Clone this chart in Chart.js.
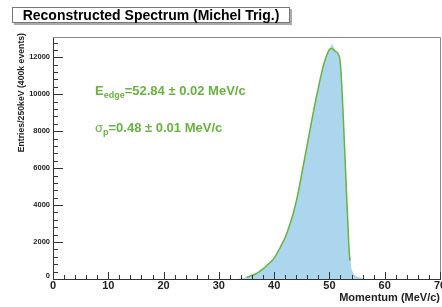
<!DOCTYPE html>
<html>
<head>
<meta charset="utf-8">
<script src="https://cdn.jsdelivr.net/npm/chart.js@4.4.1/dist/chart.umd.min.js"></script>
<style>
  html, body { margin: 0; padding: 0; background: #fff; }
</style>
</head>
<body>
<canvas id="spectrum" width="442" height="307"></canvas>
<script>
// histogram contents (MeV/c, entries per 250 keV)
var histMomentum = [33, 33.5, 34, 34.5, 35, 35.5, 36, 36.5, 37, 37.5, 38, 38.5, 39, 39.5,
    40, 40.5, 41, 41.5, 42, 42.5, 43, 43.5, 44, 44.5, 45, 45.5, 46, 46.5, 47, 47.5,
    48, 48.5, 49, 49.5, 50, 50.5, 51, 51.5, 52, 52.5, 53, 53.5, 54, 54.5, 55, 55.5,
    56, 56.5, 57];
var histEntries = [0, 15, 35, 60, 100, 140, 200, 260, 330, 440, 550, 680, 820, 960,
    1130, 1380, 1650, 1950, 2250, 2650, 3100, 3600, 4200, 4900, 5700, 6500, 7300, 8100, 8900, 9650,
    10350, 11050, 11650, 12100, 12420, 12750, 12380, 12240, 11650, 8800, 5300, 1900, 520, 230, 130, 80,
    40, 15, 0];

// fitted edge function
var fitMomentum = [35, 35.5, 36, 36.5, 37, 37.5, 38, 38.5, 39, 39.5, 40, 40.5, 41, 41.5,
    42, 42.5, 43, 43.5, 44, 44.5, 45, 45.5, 46, 46.5, 47, 47.5, 48, 48.5, 49, 49.5,
    50, 50.5, 51, 51.5, 52, 52.5, 53, 53.5, 53.7];
var fitEntries = [100, 140, 200, 260, 330, 440, 550, 680, 820, 960, 1130, 1380, 1650, 1950,
    2250, 2650, 3100, 3600, 4200, 4900, 5700, 6500, 7300, 8100, 8900, 9650, 10350, 11050, 11650, 12100,
    12420, 12480, 12330, 12220, 11600, 8800, 5300, 1900, 980];

var xTickLabels = [0, 10, 20, 30, 40, 50, 60, 70];
var yTickLabels = [0, 2000, 4000, 6000, 8000, 10000, 12000];

var GREEN = 'rgb(104,178,62)';
var FONT = '"Liberation Sans", Arial, sans-serif';

function toPoints(xs, ys) {
    var pts = [];
    for (var i = 0; i < xs.length; i++) {
        pts.push({ x: xs[i], y: ys[i] });
    }
    return pts;
}

// ROOT-like decorations: inward ticks, labels, titles, frame, stat text
var rootStyle = {
    id: 'rootStyle',
    afterDraw: function (chart) {
        var ctx = chart.ctx;
        var area = chart.chartArea;
        var xs = chart.scales.x;
        var ys = chart.scales.y;
        var i, p;

        ctx.save();

        // frame top / right
        ctx.strokeStyle = '#888';
        ctx.lineWidth = 1;
        ctx.beginPath();
        ctx.moveTo(area.left, area.top + 0.5);
        ctx.lineTo(area.right + 0.5, area.top + 0.5);
        ctx.lineTo(area.right + 0.5, area.bottom);
        ctx.stroke();

        // x ticks (every 2, major every 10)
        ctx.strokeStyle = '#333';
        ctx.beginPath();
        for (i = 0; i <= 70; i += 2) {
            p = Math.round(xs.getPixelForValue(i)) + 0.5;
            var len = (i % 10 === 0) ? 7 : 4;
            ctx.moveTo(p, area.bottom);
            ctx.lineTo(p, area.bottom - len);
        }
        // y ticks (every 400, major every 2000)
        for (i = 0; i <= ys.max; i += 400) {
            p = Math.round(ys.getPixelForValue(i)) + 0.5;
            var ylen = (i % 2000 === 0) ? 10 : 5;
            ctx.moveTo(area.left, p);
            ctx.lineTo(area.left + ylen, p);
        }
        ctx.stroke();

        // tick labels
        ctx.fillStyle = '#222';
        ctx.font = 'bold 11px ' + FONT;
        ctx.textAlign = 'center';
        ctx.textBaseline = 'top';
        xTickLabels.forEach(function (v) {
            ctx.fillText(String(v), xs.getPixelForValue(v), area.bottom + 1);
        });
        ctx.font = 'bold 7.5px ' + FONT;
        ctx.textAlign = 'right';
        ctx.textBaseline = 'middle';
        yTickLabels.forEach(function (v) {
            var yy = ys.getPixelForValue(v);
            if (v === 0) { yy -= 3; }
            ctx.fillText(String(v), area.left - 3, yy);
        });

        // axis titles
        ctx.font = 'bold 11px ' + FONT;
        ctx.textAlign = 'right';
        ctx.textBaseline = 'alphabetic';
        ctx.fillText('Momentum (MeV/c)', area.right, 301);

        ctx.save();
        ctx.translate(24, 33);
        ctx.rotate(-Math.PI / 2);
        ctx.font = 'bold 8.7px ' + FONT;
        ctx.textAlign = 'right';
        ctx.fillText('Entries/250keV (400k events)', 0, 0);
        ctx.restore();

        // title box
        ctx.fillStyle = '#aaa';
        ctx.fillRect(14, 9, 278, 16);
        ctx.fillStyle = '#fff';
        ctx.fillRect(12, 7, 278, 16);
        ctx.strokeStyle = '#777';
        ctx.strokeRect(12.5, 7.5, 277, 15);
        ctx.fillStyle = '#000';
        ctx.font = 'bold 14px ' + FONT;
        ctx.textAlign = 'center';
        ctx.fillText('Reconstructed Spectrum (Michel Trig.)', 151, 20);

        // fit results
        ctx.fillStyle = GREEN;
        ctx.textAlign = 'left';
        var x0 = 95;
        ctx.font = 'bold 13px ' + FONT;
        ctx.fillText('E', x0, 95);
        var w = ctx.measureText('E').width;
        ctx.font = 'bold 9px ' + FONT;
        ctx.fillText('edge', x0 + w, 98);
        w += ctx.measureText('edge').width;
        ctx.font = 'bold 13px ' + FONT;
        ctx.fillText('=52.84 \u00b1 0.02 MeV/c', x0 + w, 95);

        ctx.font = '13px ' + FONT;
        ctx.fillText('\u03c3', x0, 132);
        w = ctx.measureText('\u03c3').width;
        ctx.font = 'bold 9px ' + FONT;
        ctx.fillText('p', x0 + w, 135);
        w += ctx.measureText('p').width;
        ctx.font = 'bold 13px ' + FONT;
        ctx.fillText('=0.48 \u00b1 0.01 MeV/c', x0 + w, 132);

        ctx.restore();
    }
};

new Chart(document.getElementById('spectrum'), {
    type: 'scatter',
    data: {
        datasets: [
            {
                label: 'fit',
                data: toPoints(fitMomentum, fitEntries),
                showLine: true,
                borderColor: GREEN,
                borderWidth: 1.5,
                pointRadius: 0,
                cubicInterpolationMode: 'monotone',
                fill: false,
                order: 0
            },
            {
                label: 'histogram',
                data: toPoints(histMomentum, histEntries),
                showLine: true,
                borderColor: 'rgba(0,0,0,0)',
                borderWidth: 0,
                backgroundColor: 'rgb(172,214,238)',
                pointRadius: 0,
                fill: 'origin',
                order: 1
            }
        ]
    },
    options: {
        responsive: false,
        animation: false,
        devicePixelRatio: 1,
        layout: { padding: { left: 0, right: 2, top: 37, bottom: 0 } },
        plugins: {
            legend: { display: false },
            tooltip: { enabled: false },
            title: { display: false }
        },
        scales: {
            x: {
                type: 'linear',
                min: 0,
                max: 70,
                grid: { display: false, drawTicks: false },
                border: { display: true, color: '#333', width: 1 },
                ticks: { display: false },
                afterFit: function (scale) { scale.height = 28; }
            },
            y: {
                type: 'linear',
                min: 0,
                max: 13100,
                grid: { display: false, drawTicks: false },
                border: { display: true, color: '#333', width: 1 },
                ticks: { display: false },
                afterFit: function (scale) { scale.width = 53; }
            }
        }
    },
    plugins: [rootStyle]
});
</script>
</body>
</html>
